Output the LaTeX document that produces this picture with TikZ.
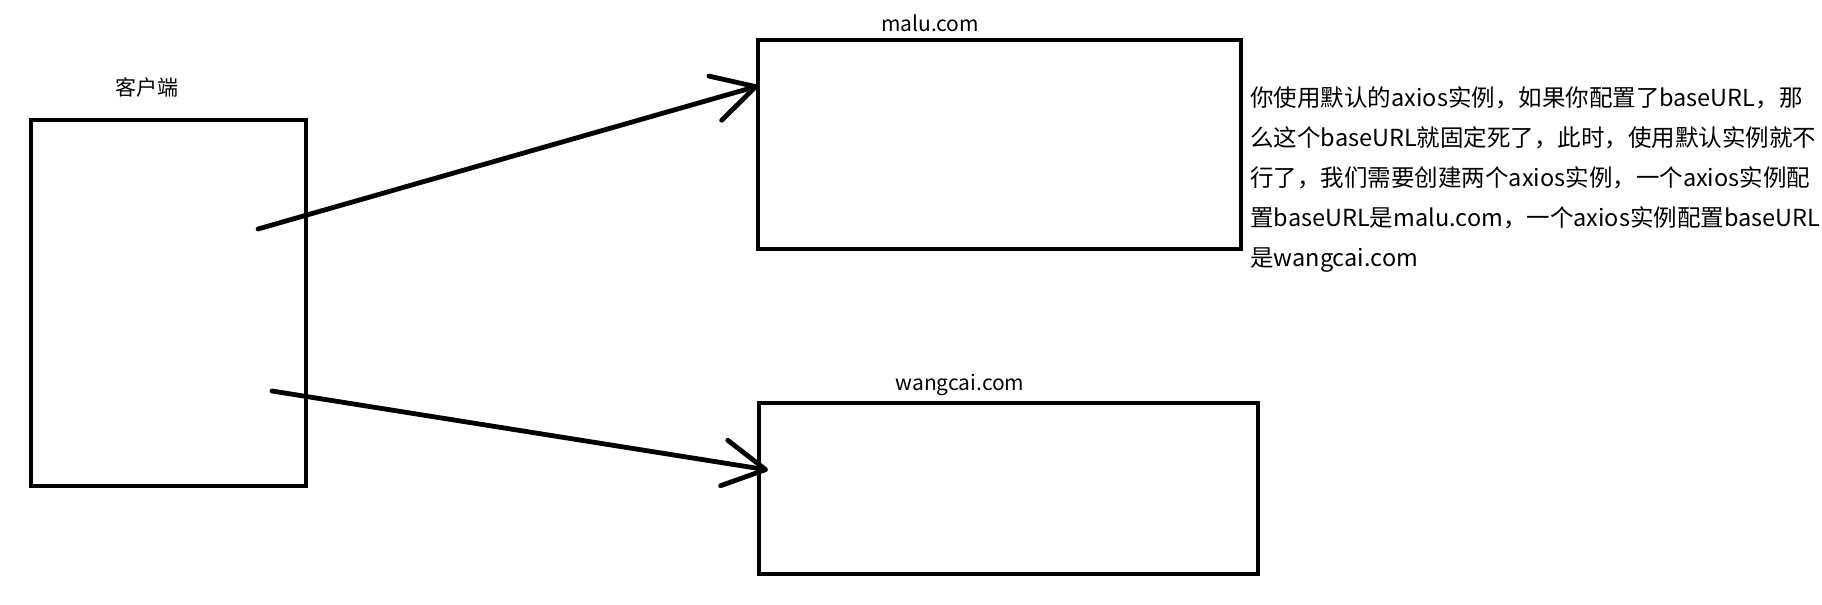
\documentclass[tikz,border=0pt]{standalone}
\usepackage{fontspec}
\setmainfont{Noto Sans CJK SC}
\usetikzlibrary{arrows.meta}
\usetikzlibrary{positioning}

\tikzset{
  box/.style={draw, line width=2.4pt, inner sep=0pt},
  hand/.style={line width=2.4pt, line cap=round, -{Straight Barb[length=21pt,width=23pt,round]}},
  tag/.style={font=\fontsize{10.5}{12}\selectfont, inner sep=0pt},
}

\begin{document}
\begin{tikzpicture}[x=0.5pt,y=-0.5pt]
\useasboundingbox (0,0) rectangle (1822,605);
\node[box, minimum width=137.5pt, minimum height=183pt] (client) at (168.5,303) {};
\node[box, minimum width=241.5pt, minimum height=104.5pt] (malu) at (999.5,144.5) {};
\node[box, minimum width=249.5pt, minimum height=85.5pt] (wangcai) at (1008.5,488.5) {};

\node[tag] (clientlbl) at (147,87) {客户端};
\node[tag] (malulbl) at (930,23) {malu.com};
\node[tag] (wangcailbl) at (960,385) {wangcai.com};

% hand drawn arrows
\coordinate (a1s) at (258,229);
\coordinate (a1e) at (758,86);
\coordinate (a2s) at (272,391);
\coordinate (a2e) at (768,470);
\draw[hand] (a1s) -- (a1e);
\draw[hand] (a2s) -- (a2e);

\node[anchor=north west, inner sep=0pt, align=left, font=\fontsize{11.75}{20}\selectfont] (note) at (1250,86)
  {你使用默认的axios实例，如果你配置了baseURL，那\\
   么这个baseURL就固定死了，此时，使用默认实例就不\\
   行了，我们需要创建两个axios实例，一个axios实例配\\
   置baseURL是malu.com，一个axios实例配置baseURL\\
   是wangcai.com};
\end{tikzpicture}
\end{document}
